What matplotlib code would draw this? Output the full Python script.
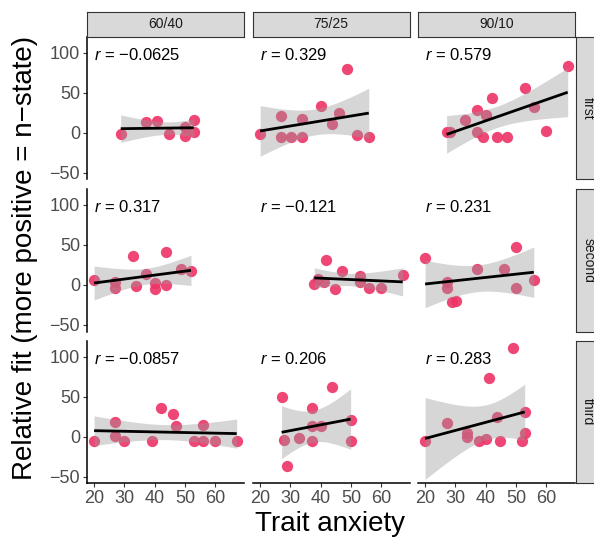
import numpy as np
import matplotlib
matplotlib.use("Agg")
import matplotlib.pyplot as plt

plt.rcParams["font.family"] = ["Liberation Sans", "DejaVu Sans"]
plt.rcParams["mathtext.fontset"] = "custom"
plt.rcParams["mathtext.rm"] = "Liberation Sans"
plt.rcParams["mathtext.it"] = "Liberation Sans:italic"

# facet labels
positions = ["first", "second", "third"]
ratios = ["60/40", "75/25", "90/10"]

# trait anxiety (x) and relative fit (y) per panel
first_6040_x = [28.8, 37.0, 40.8, 44.7, 49.9, 49.9, 52.9, 52.9]
first_6040_y = [-1.6, 13.8, 15.0, -2.0, 7.5, -4.0, 15.9, 1.3]
first_7525_x = [20, 26.9, 26.9, 30.2, 33.9, 33.9, 40.1, 43.8, 46.0, 48.8, 52.0, 55.9]
first_7525_y = [-2, 21.3, -5, -5, 16.7, -5, 33.4, 10.9, 25, 79.6, -3.3, -5]
first_9010_x = [27.1, 28.2, 33.2, 37.0, 37.0, 39.2, 40.1, 42.1, 43.8, 47.1, 52.9, 55.9, 60.0, 67.1]
first_9010_y = [1.3, 1.3, 15.9, 28.4, 1.3, -5, 22, 43.8, -5, -5, 56.3, 32.5, 2.5, 83.8]

second_6040_x = [20, 26.9, 26.9, 32.8, 33.9, 37.0, 40.1, 40.1, 43.8, 43.8, 48.8, 52.0]
second_6040_y = [6.3, 4.2, -4.2, 36.7, -1.3, 13.3, 2.1, -5, 41.7, 0, 20, 17.5]
second_7525_x = [37.9, 39.0, 41.2, 41.9, 44.9, 47.1, 52.9, 52.9, 55.9, 59.8, 67.1]
second_7525_y = [0.9, 7.5, 4.2, 31.3, -5.4, 17.5, 11.7, 4.2, -4.2, -4.2, 12.5]
second_9010_x = [20, 27.1, 27.1, 28.8, 30.2, 37.0, 46.0, 49.9, 49.9, 55.9]
second_9010_y = [34.2, 4.2, -4.2, -20.8, -20, 20, 20, 47.1, -4.2, 6.3]

third_6040_x = [20, 26.9, 26.9, 29.9, 39.0, 42.0, 46.0, 46.9, 52.9, 55.9, 55.9, 59.8, 67.1]
third_6040_y = [-5.4, 18.1, 0.9, -5.4, -5.4, 35.7, 28.6, 13.5, -5.4, 14.7, -5.4, -5.4, -5.4]
third_7525_x = [27.1, 28.0, 28.8, 32.8, 37.0, 37.0, 37.0, 40.1, 43.8, 49.9, 49.9]
third_7525_y = [49.1, -4.2, -36.5, -2.1, 35.7, 13.9, -5.4, 13.9, 62.2, 21, -5.4]
third_9010_x = [20, 27.1, 33.9, 33.9, 37.9, 40.1, 41.1, 43.8, 44.9, 49.0, 52.0, 52.9, 52.9]
third_9010_y = [-5.4, 16.8, 4.2, 0, -5.4, -2.9, 73.5, 25.2, -5.4, 111.3, -5.4, 30.7, 5]

r_labels = [["\u22120.0625", "0.329", "0.579"],
            ["0.317", "\u22120.121", "0.231"],
            ["\u22120.0857", "0.206", "0.283"]]

panels = [[(first_6040_x, first_6040_y), (first_7525_x, first_7525_y), (first_9010_x, first_9010_y)],
          [(second_6040_x, second_6040_y), (second_7525_x, second_7525_y), (second_9010_x, second_9010_y)],
          [(third_6040_x, third_6040_y), (third_7525_x, third_7525_y), (third_9010_x, third_9010_y)]]

# two-sided 95% t quantiles by residual df
T975 = {5: 2.571, 6: 2.447, 7: 2.365, 8: 2.306, 9: 2.262, 10: 2.228,
        11: 2.201, 12: 2.179, 13: 2.160, 14: 2.145}


def lm_band(x, y, n_grid=80):
    x = np.asarray(x, float)
    y = np.asarray(y, float)
    n = len(x)
    slope, icept = np.polyfit(x, y, 1)
    resid = y - (icept + slope * x)
    s = np.sqrt(np.sum(resid ** 2) / (n - 2))
    sxx = np.sum((x - x.mean()) ** 2)
    xg = np.linspace(x.min(), x.max(), n_grid)
    fit = icept + slope * xg
    se = s * np.sqrt(1.0 / n + (xg - x.mean()) ** 2 / sxx)
    t = T975[n - 2]
    return xg, fit, fit - t * se, fit + t * se


W, H = 594, 541
fig = plt.figure(figsize=(W / 100, H / 100), dpi=100)

col_left = [87, 253, 418]
row_top = [36.7, 189, 340.7]
pw, ph = 156.5, 142.6

for i in range(3):
    for j in range(3):
        ax = fig.add_axes([col_left[j] / W, 1 - (row_top[i] + ph) / H, pw / W, ph / H])
        x, y = panels[i][j]
        ax.scatter(x, y, s=66, color="#EE3366", alpha=0.9, linewidths=0, zorder=2)
        xg, fit, lo, hi = lm_band(x, y)
        ax.fill_between(xg, lo, hi, color="#999999", alpha=0.4, linewidth=0, zorder=3)
        ax.plot(xg, fit, color="black", lw=2.0, zorder=4, solid_capstyle="butt")
        ax.text(20, 97, r"$r$ = " + r_labels[i][j], fontsize=12, ha="left", va="center", color="black")

        ax.set_xlim(17.65, 69.35)
        ax.set_ylim(-58.3, 120)
        for side in ["top", "right"]:
            ax.spines[side].set_visible(False)
        ax.spines["left"].set_visible(j == 0)
        ax.spines["bottom"].set_visible(i == 2)
        ax.spines["left"].set_linewidth(1.1)
        ax.spines["bottom"].set_linewidth(1.1)

        ax.set_xticks([20, 30, 40, 50, 60])
        ax.set_yticks([-50, 0, 50, 100])
        ax.tick_params(axis="both", length=3, width=0.8, color="#333333",
                       labelsize=13, labelcolor="#4D4D4D", pad=2)
        if j != 0:
            ax.tick_params(axis="y", left=False, labelleft=False)
        if i != 2:
            ax.tick_params(axis="x", bottom=False, labelbottom=False)

        # column strips on top, row strips on the right
        if i == 0:
            sax = fig.add_axes([col_left[j] / W, 1 - row_top[i] / H, pw / W, 24.5 / H])
            sax.set_facecolor("#D9D9D9")
            sax.set_xticks([])
            sax.set_yticks([])
            for sp in sax.spines.values():
                sp.set_color("#333333")
                sp.set_linewidth(0.8)
            sax.text(0.5, 0.5, ratios[j], transform=sax.transAxes, ha="center",
                     va="center", fontsize=10, color="#1A1A1A")
        if j == 2:
            rax = fig.add_axes([576 / W, 1 - (row_top[i] + ph) / H, 24.5 / W, ph / H])
            rax.set_facecolor("#D9D9D9")
            rax.set_xticks([])
            rax.set_yticks([])
            for sp in rax.spines.values():
                sp.set_color("#333333")
                sp.set_linewidth(0.8)
            rax.text(0.5, 0.5, positions[i], transform=rax.transAxes, ha="center",
                     va="center", rotation=-90, fontsize=10, color="#1A1A1A")

fig.text(25 / W, 1 - 258 / H, "Relative fit (more positive = n\u2212state)", rotation=90,
         ha="center", va="center", fontsize=20)
fig.text(330 / W, 1 - 524 / H, "Trait anxiety", ha="center", va="center", fontsize=20)

fig.savefig("out.png", dpi=100)
